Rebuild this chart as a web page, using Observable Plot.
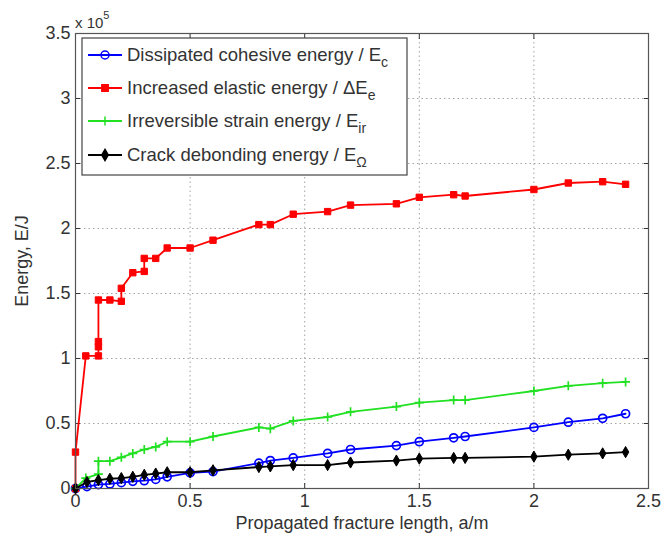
<!DOCTYPE html>
<html><head><meta charset="utf-8">
<script src="https://cdn.jsdelivr.net/npm/d3@7"></script>
<script src="https://cdn.jsdelivr.net/npm/@observablehq/plot@0.6"></script>
<style>
body{margin:0;background:#fff;}
#chart{position:relative;width:665px;height:538px;}
</style>
</head><body><div id="chart"></div>
<script>
// ---- data (energies in units of 1e5 J, lengths in m) ----
const xTicks = [0, 0.5, 1, 1.5, 2, 2.5];
const yTicks = [0, 0.5, 1, 1.5, 2, 2.5, 3, 3.5];
const xLabel = "Propagated fracture length, a/m";
const yLabel = "Energy, E/J";
const seriesNames = ["Dissipated cohesive energy / E", "Increased elastic energy / ΔE", "Irreversible strain energy / E", "Crack debonding energy / E"];
const seriesSubs = ["c", "e", "ir", "Ω"];

const cohesiveX = [0, 0.05, 0.1, 0.15, 0.2, 0.25, 0.3, 0.35, 0.4, 0.5, 0.6, 0.8, 0.85, 0.95, 1.1, 1.2, 1.4, 1.5, 1.65, 1.7, 2.0, 2.15, 2.3, 2.4];
const cohesiveY = [0, 0.015, 0.03, 0.035, 0.045, 0.055, 0.06, 0.07, 0.09, 0.12, 0.13, 0.195, 0.215, 0.235, 0.27, 0.30, 0.33, 0.36, 0.39, 0.40, 0.47, 0.51, 0.54, 0.575];

const elasticX = [0, 0, 0.045, 0.1, 0.1, 0.1, 0.1, 0.15, 0.2, 0.2, 0.25, 0.3, 0.3, 0.35, 0.4, 0.5, 0.6, 0.8, 0.85, 0.95, 1.1, 1.2, 1.4, 1.5, 1.65, 1.7, 2.0, 2.15, 2.3, 2.4];
const elasticY = [0, 0.28, 1.02, 1.02, 1.09, 1.13, 1.45, 1.45, 1.44, 1.54, 1.66, 1.67, 1.77, 1.77, 1.85, 1.85, 1.91, 2.03, 2.03, 2.11, 2.13, 2.18, 2.19, 2.24, 2.26, 2.25, 2.30, 2.35, 2.36, 2.34];

const strainX = [0, 0.045, 0.1, 0.1, 0.15, 0.2, 0.25, 0.3, 0.35, 0.4, 0.5, 0.6, 0.8, 0.85, 0.95, 1.1, 1.2, 1.4, 1.5, 1.65, 1.7, 2.0, 2.15, 2.3, 2.4];
const strainY = [0, 0.08, 0.11, 0.21, 0.21, 0.24, 0.27, 0.30, 0.32, 0.36, 0.36, 0.40, 0.47, 0.46, 0.52, 0.55, 0.59, 0.63, 0.66, 0.68, 0.68, 0.75, 0.79, 0.81, 0.82];

const debondX = [0, 0.05, 0.1, 0.15, 0.2, 0.25, 0.3, 0.35, 0.4, 0.5, 0.6, 0.8, 0.85, 0.95, 1.1, 1.2, 1.4, 1.5, 1.65, 1.7, 2.0, 2.15, 2.3, 2.4];
const debondY = [0, 0.05, 0.065, 0.075, 0.08, 0.09, 0.105, 0.115, 0.125, 0.125, 0.14, 0.165, 0.17, 0.18, 0.18, 0.20, 0.215, 0.23, 0.235, 0.235, 0.245, 0.26, 0.27, 0.28];

// ---- styles ----
const styles = [
  {color: "#0000ff", symbol: "circle", fill: "none", r: 4},
  {color: "#ff0000", symbol: "square", fill: "#ff0000", r: 3.6},
  {color: "#22e022", symbol: "plus", fill: "none", r: 3},
  {color: "#000000", symbol: "diamond", fill: "#000000", r: 3.4}
];
const seriesXY = [[cohesiveX, cohesiveY], [elasticX, elasticY], [strainX, strainY], [debondX, debondY]];
const tables = seriesXY.map(([xs, ys], i) => xs.map((x, j) => ({x, y: ys[j], s: seriesNames[i]})));

const font = "'Liberation Sans', Arial, Helvetica, sans-serif";
const lineMarks = [];
tables.forEach((t, i) => {
  const st = styles[i];
  lineMarks.push(Plot.line(t, {x: "x", y: "y", stroke: st.color, strokeWidth: 1.8}));
  const strokeSymbol = st.symbol === "plus" || st.fill === "none";
  lineMarks.push(Plot.dot(t, {x: "x", y: "y", symbol: st.symbol, r: st.r,
    stroke: st.color, fill: st.fill, strokeWidth: strokeSymbol ? 1.7 : 1}));
});

const plot = Plot.plot({
  width: 665, height: 538,
  marginLeft: 75, marginRight: 17, marginTop: 33, marginBottom: 50,
  style: {fontFamily: font, fontSize: "18px", color: "#333", background: "#fff", overflow: "visible"},
  x: {domain: [0, 2.5]},
  y: {domain: [0, 3.5]},
  marks: [
    Plot.gridX(xTicks, {stroke: "#999", strokeOpacity: 0.9, strokeDasharray: "1.5,3"}),
    Plot.gridY(yTicks, {stroke: "#999", strokeOpacity: 0.9, strokeDasharray: "1.5,3"}),
    Plot.axisX(xTicks, {anchor: "bottom", tickSize: -5, tickPadding: 11, tickFormat: d => String(d), label: xLabel, labelAnchor: "center", labelOffset: 40, labelArrow: "none", fontSize: 18}),
    Plot.axisX(xTicks, {anchor: "top", tickSize: -5, tickFormat: () => "", label: null}),
    Plot.axisY(yTicks, {anchor: "left", tickSize: -5, tickPadding: 10, tickFormat: d => String(d), label: yLabel, labelAnchor: "center", labelOffset: 60, labelArrow: "none", fontSize: 18}),
    Plot.axisY(yTicks, {anchor: "right", tickSize: -5, tickFormat: () => "", label: null}),
    ...lineMarks,
    Plot.frame({stroke: "#555", strokeWidth: 1.2})
  ]
});
document.getElementById("chart").appendChild(plot);

// ---- exponent label and legend drawn into the svg ----
const svg = d3.select(plot);
const exp = svg.append("text").attr("x", 75).attr("y", 28).attr("text-anchor", "start")
  .attr("font-family", font).attr("font-size", 15).attr("fill", "#333");
exp.append("tspan").text("x 10");
exp.append("tspan").attr("dy", -9).attr("font-size", 11).text("5");

const lg = svg.append("g");
lg.append("rect").attr("x", 82).attr("y", 38).attr("width", 325).attr("height", 137)
  .attr("fill", "#fff").attr("stroke", "#444").attr("stroke-width", 1.2);
const rowY = [55, 88, 121, 155];
seriesNames.forEach((name, i) => {
  const st = styles[i];
  const y = rowY[i];
  lg.append("line").attr("x1", 88).attr("x2", 122).attr("y1", y).attr("y2", y)
    .attr("stroke", st.color).attr("stroke-width", 1.8);
  const symType = {circle: d3.symbolCircle, square: d3.symbolSquare, plus: d3.symbolPlus, diamond: d3.symbolDiamond}[st.symbol];
  lg.append("path").attr("transform", `translate(105,${y})`)
    .attr("d", d3.symbol(symType, Math.PI * st.r * st.r)())
    .attr("stroke", st.color).attr("fill", st.fill).attr("stroke-width", 1.5);
  const t = lg.append("text").attr("x", 127).attr("y", y + 6).attr("text-anchor", "start")
    .attr("font-family", font).attr("font-size", 18.5).attr("fill", "#333");
  t.append("tspan").text(name);
  t.append("tspan").attr("dy", 6).attr("font-size", 14).text(seriesSubs[i]);
});
</script>
</body></html>
